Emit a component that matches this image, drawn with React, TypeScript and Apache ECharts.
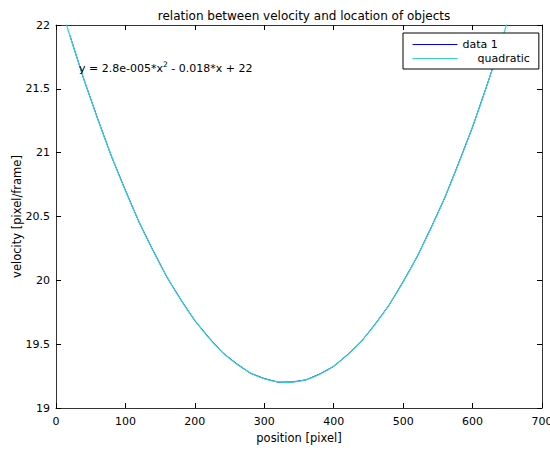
import React, { useEffect, useRef } from "react";
import * as echarts from "echarts";

// quadratic fit line (cyan)
const fitX = [10, 20, 30, 40, 50, 60, 70, 80, 90, 100, 110, 120, 130, 140, 150, 160, 170, 180, 190, 200, 210, 220, 230, 240, 250, 260, 270, 280, 290, 300, 310, 320, 330, 340, 350, 360, 370, 380, 390, 400, 410, 420, 430, 440, 450, 460, 470, 480, 490, 500, 510, 520, 530, 540, 550, 560, 570, 580, 590, 600, 610, 620, 630, 640, 650, 660];
const fitY = [22.093, 21.916, 21.745, 21.579, 21.419, 21.264, 21.115, 20.972, 20.834, 20.702, 20.575, 20.454, 20.338, 20.229, 20.124, 20.025, 19.932, 19.845, 19.763, 19.686, 19.615, 19.55, 19.49, 19.436, 19.388, 19.345, 19.307, 19.275, 19.249, 19.229, 19.214, 19.204, 19.2, 19.202, 19.209, 19.222, 19.24, 19.264, 19.294, 19.329, 19.37, 19.416, 19.468, 19.525, 19.588, 19.657, 19.731, 19.811, 19.896, 19.987, 20.084, 20.186, 20.294, 20.407, 20.526, 20.65, 20.78, 20.916, 21.057, 21.204, 21.356, 21.514, 21.678, 21.847, 22.021, 22.202];

const dataX = [20, 40, 60, 80, 100, 120, 140, 160, 180, 200, 220, 240, 260, 280, 300, 320, 340, 360, 380, 400, 420, 440, 460, 480, 500, 520, 540, 560, 580, 600, 620, 640];
const dataY = [21.919, 21.576, 21.267, 20.969, 20.705, 20.451, 20.232, 20.022, 19.848, 19.683, 19.553, 19.433, 19.348, 19.272, 19.231, 19.202, 19.204, 19.22, 19.267, 19.326, 19.419, 19.522, 19.66, 19.808, 19.99, 20.183, 20.41, 20.647, 20.919, 21.201, 21.517, 21.844];

const xTicks = { min: 0, max: 700, interval: 100 };
const yTicks = { min: 19, max: 22, interval: 0.5 };

const titleText = "relation between velocity and location of objects";
const xName = "position [pixel]";
const yName = "velocity [pixel/frame]";
const seriesNames = ["data 1", "quadratic"];

const FONT = "DejaVu Sans";

export default function App() {
  const ref = useRef<HTMLDivElement>(null);
  useEffect(() => {
    if (!ref.current) return;
    const chart = echarts.init(ref.current, null, { renderer: "svg" });
    const axisLine = { show: true, onZero: false, lineStyle: { color: "#333", width: 1 } };
    const axisTick = { show: true, inside: true, length: 5, lineStyle: { color: "#000", width: 1 } };
    const label = { color: "#000", fontSize: 11, fontFamily: FONT };
    const nameStyle = { color: "#000", fontSize: 11.5, fontFamily: FONT };
    chart.setOption({
      animation: false,
      backgroundColor: "#fff",
      title: {
        text: titleText,
        left: 299,
        top: 5,
        textAlign: "center",
        textStyle: { color: "#000", fontSize: 12, fontWeight: "normal", fontFamily: FONT },
      },
      grid: { left: 56, right: 8, top: 25, bottom: 42, outerBoundsMode: "none", containLabel: false },
      legend: {
        orient: "vertical",
        left: 403,
        top: 33,
        data: seriesNames,
        itemWidth: 45,
        itemHeight: 12,
        itemGap: 3,
        padding: [6, 9, 5, 9],
        backgroundColor: "#fff",
        borderColor: "#000",
        borderWidth: 1,
        borderRadius: 0,
        itemStyle: { opacity: 0 },
        lineStyle: { width: 1 },
        textStyle: {
          color: "#000",
          fontSize: 11,
          fontFamily: FONT,
          rich: { q: { padding: [0, 0, 0, 15], fontSize: 11, fontFamily: FONT, color: "#000" } },
        },
        formatter: (n: string) => (n === "quadratic" ? "{q|quadratic}" : n),
        z: 10,
      },
      xAxis: [
        {
          type: "value",
          position: "bottom",
          ...xTicks,
          axisLine,
          axisTick,
          axisLabel: { ...label, margin: 8 },
          splitLine: { show: false },
          name: xName,
          nameLocation: "middle",
          nameGap: 24,
          nameMoveOverlap: false,
          nameTextStyle: nameStyle,
        },
        {
          type: "value",
          position: "top",
          ...xTicks,
          axisLine,
          axisTick,
          axisLabel: { show: false },
          splitLine: { show: false },
        },
      ],
      yAxis: [
        {
          type: "value",
          position: "left",
          ...yTicks,
          axisLine,
          axisTick,
          axisLabel: { ...label, margin: 6 },
          splitLine: { show: false },
          name: yName,
          nameLocation: "middle",
          nameGap: 33,
          nameMoveOverlap: false,
          nameTextStyle: nameStyle,
        },
        {
          type: "value",
          position: "right",
          ...yTicks,
          axisLine,
          axisTick,
          axisLabel: { show: false },
          splitLine: { show: false },
        },
      ],
      graphic: [
        {
          type: "text",
          x: 79,
          y: 68,
          z: 20,
          style: {
            text: "{a|y = 2.8e-005*x}{s|2}{a| - 0.018*x + 22}",
            verticalAlign: "middle",
            fill: "#000",
            rich: {
              a: { fontSize: 11, fontFamily: FONT, lineHeight: 15, fill: "#000" },
              s: { fontSize: 7.5, fontFamily: FONT, lineHeight: 9, verticalAlign: "top", fill: "#000" },
            },
          },
        },
      ],
      series: [
        {
          name: seriesNames[0],
          type: "line",
          data: dataX.map((x, i) => [x, dataY[i]]),
          symbol: "none",
          showSymbol: false,
          lineStyle: { color: "#0000ee", width: 1 },
          itemStyle: { color: "#0000ee" },
          z: 2,
        },
        {
          name: seriesNames[1],
          type: "line",
          data: fitX.map((x, i) => [x, fitY[i]]),
          symbol: "none",
          showSymbol: false,
          lineStyle: { color: "#30d4d4", width: 1.2 },
          itemStyle: { color: "#30d4d4" },
          z: 3,
        },
      ],
    });
    return () => chart.dispose();
  }, []);
  return (
    <div
      ref={ref}
      style={{ position: "absolute", left: 0, top: 0, width: 550, height: 450 }}
    />
  );
}
